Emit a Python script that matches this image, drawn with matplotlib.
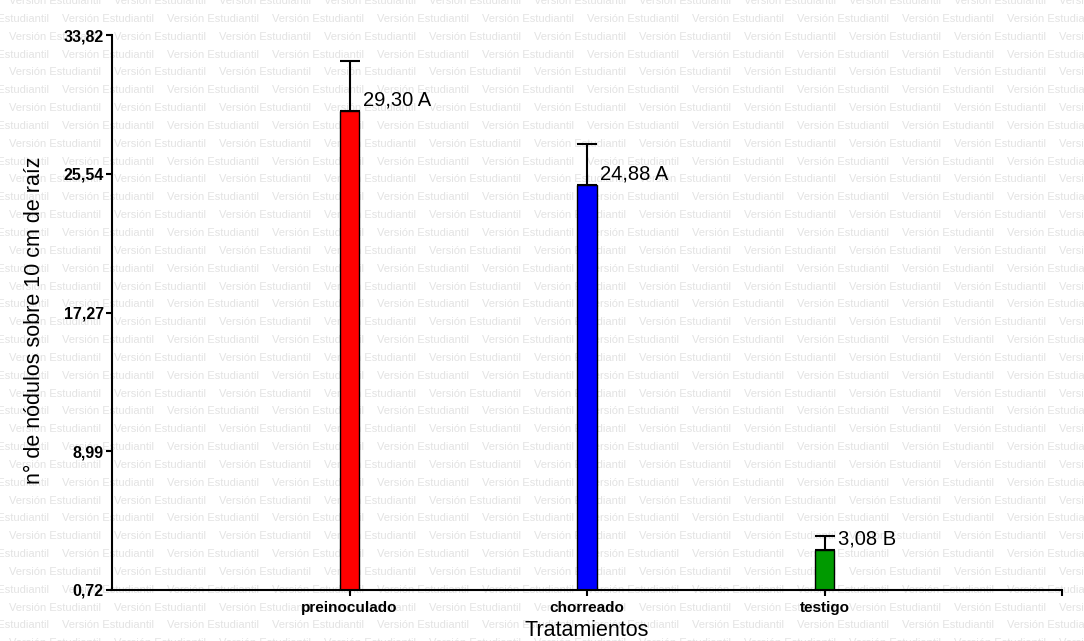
import numpy as np
from matplotlib import pyplot as plt

plt.rcParams['font.family'] = ['Liberation Sans', 'DejaVu Sans']

# data
categories = ['preinoculado', 'chorreado', 'testigo']
means = [29.30, 24.88, 3.08]
err_up = [2.96, 2.43, 0.88]
letters = ['A', 'A', 'B']
bar_colors = ['#ff0000', '#0000ff', '#009a00']
y_ticks = [0.72, 8.99, 17.27, 25.54, 33.82]

W, H = 1084, 641
fig = plt.figure(figsize=(W / 100, H / 100), dpi=100)
ax = fig.add_axes([112 / W, 51 / H, 950 / W, 555 / H])
ax.patch.set_visible(False)

# "Versión Estudiantil" watermark over the whole picture
wm = 'Versión Estudiantil'
row_y = 1.1
row = 0
while row_y < H + 10:
    x0 = 9 if row % 2 == 0 else -43
    x = x0 - 105
    while x < W:
        fig.text(x / W, 1 - row_y / H, wm, fontsize=8, color='#e3e3e3',
                 ha='left', va='center', zorder=-10)
        x += 105
    row_y += 17.84
    row += 1

x = np.arange(len(categories))
ax.bar(x, means, width=0.084, color=bar_colors, edgecolor='black',
       linewidth=1, zorder=2)
ax.errorbar(x, means, yerr=[np.zeros(len(means)), err_up], fmt='none',
            ecolor='black', elinewidth=1.5, capsize=7.2, capthick=1.5, zorder=1)

for xi, m, l in zip(x, means, letters):
    ax.annotate('{} {}'.format(('%.2f' % m).replace('.', ','), l), (xi, m),
                xytext=(9.5, 8), textcoords='offset points',
                ha='left', va='center', fontsize=14.5, zorder=5)

ax.set_xlim(-1, 3)
ax.set_ylim(y_ticks[0], y_ticks[-1])
ax.set_yticks(y_ticks)
ax.set_yticklabels([('%.2f' % t).replace('.', ',') for t in y_ticks],
                   fontweight='bold', fontsize=11.5)
ax.set_xticks(x)
ax.set_xticklabels(categories, fontweight='bold', fontsize=11)
ax.set_xticks([3], minor=True)
ax.tick_params(axis='both', which='both', length=4, width=1.5, pad=2, color='black')
ax.tick_params(axis='x', which='major', pad=4)

for s in ['top', 'right']:
    ax.spines[s].set_visible(False)
for s in ['left', 'bottom']:
    ax.spines[s].set_linewidth(1.5)

ax.set_xlabel('Tratamientos', fontsize=15.5)
ax.xaxis.label.set_va('center')
ax.xaxis.set_label_coords(0.5, (590 - 631) / 555)
ax.set_ylabel('n° de nódulos sobre 10 cm de raíz', fontsize=15.5)
ax.yaxis.label.set_va('center')
ax.yaxis.set_label_coords((35 - 112) / 950, (590 - 320) / 555)

fig.savefig('out.png', dpi=100)
